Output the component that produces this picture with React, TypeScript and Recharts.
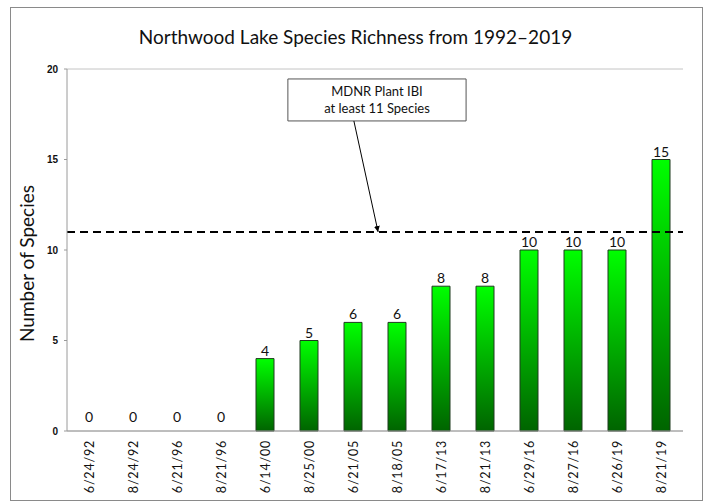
import React from "react";
import {
  ComposedChart,
  Bar,
  Line,
  XAxis,
  YAxis,
  CartesianGrid,
  ReferenceLine,
  ReferenceArea,
  LabelList,
} from "recharts";

const dates = [
  "6/24/92", "8/24/92", "6/21/96", "8/21/96", "6/14/00", "8/25/00", "6/21/05",
  "8/18/05", "6/17/13", "8/21/13", "6/29/16", "8/27/16", "6/26/19", "8/21/19",
];
const species = [0, 0, 0, 0, 4, 5, 6, 6, 8, 8, 10, 10, 10, 15];
const yTicks = [0, 5, 10, 15, 20];
const ibiThreshold = 11;
const title = "Northwood Lake Species Richness from 1992\u20132019";
const noteLines = ["MDNR Plant IBI", "at least 11 Species"];

const data = dates.map((d, i) => ({ date: d, value: species[i], slot: i + 0.5 }));

const FONT = "Lato, 'Open Sans', sans-serif";

const XTick = (props: any) => {
  const { x, y, payload } = props;
  return (
    <g transform={`translate(${x + 4.5}, ${y + 1}) rotate(-90)`}>
      <text
        x={0}
        y={0}
        textAnchor="end"
        fontFamily={FONT}
        fontSize={12.5}
        letterSpacing={0.8}
        fill="#111"
      >
        {payload.value}
      </text>
    </g>
  );
};

const ValueLabel = (props: any) => {
  const { x, y, value } = props;
  const dy = value === 0 ? 9 : 3;
  return (
    <text x={x} y={y - dy} textAnchor="middle" fontFamily={FONT} fontSize={14} fill="#111">
      {value}
    </text>
  );
};

const NoteLabel = (props: any) => {
  const { viewBox } = props;
  const cx = viewBox.x + viewBox.width / 2;
  const top = viewBox.y;
  return (
    <g>
      <text x={cx} y={top + 17} textAnchor="middle" fontFamily={FONT} fontSize={13} fill="#111">
        {noteLines[0]}
      </text>
      <text x={cx} y={top + 34} textAnchor="middle" fontFamily={FONT} fontSize={13} fill="#111">
        {noteLines[1]}
      </text>
    </g>
  );
};

export default function App() {
  return (
    <div style={{ position: "absolute", left: 0, top: 0, width: 711, height: 504, background: "#fff" }}>
      <div
        style={{
          position: "absolute",
          left: 0,
          top: 25,
          width: 711,
          textAlign: "center",
          fontFamily: FONT,
          fontSize: 19,
          color: "#111",
        }}
      >
        {title}
      </div>
      <div style={{ position: "absolute", left: 0, top: 0 }}>
        <ComposedChart
          width={711}
          height={504}
          data={data}
          margin={{ top: 69, right: 28, bottom: 10, left: 27 }}
        >
          <defs>
            <linearGradient id="barGrad" x1="0" y1="0" x2="0" y2="1">
              <stop offset="0%" stopColor="#00ff00" />
              <stop offset="100%" stopColor="#006400" />
            </linearGradient>
            <marker id="arrowHead" viewBox="0 0 10 10" refX="10" refY="5" markerWidth="6" markerHeight="6" orient="auto">
              <path d="M0,0 L10,5 L0,10 z" fill="#000" />
            </marker>
          </defs>
          <CartesianGrid vertical={false} stroke="#c4c4c4" />
          <XAxis
            dataKey="date"
            xAxisId="cat"
            height={63}
            interval={0}
            tick={<XTick />}
            tickLine={false}
            axisLine={{ stroke: "#9a9a9a" }}
          />
          <XAxis
            xAxisId="num"
            dataKey="slot"
            type="number"
            domain={[0, 14]}
            allowDataOverflow
            height={0}
            tick={false}
            tickLine={false}
            axisLine={false}
          />
          <YAxis
            yAxisId="l"
            width={40}
            domain={[0, 20]}
            ticks={yTicks}
            tickSize={3}
            tickMargin={6}
            tick={{ fontFamily: "'Liberation Sans', Arial, sans-serif", fontSize: 10, fontWeight: "bold", fill: "#111" }}
            axisLine={{ stroke: "#9a9a9a" }}
            tickLine={{ stroke: "#9a9a9a" }}
            label={{
              value: "Number of Species",
              angle: -90,
              position: "insideLeft",
              dx: -5,
              dy: 92,
              style: { fontFamily: FONT, fontSize: 19, fill: "#111" },
            }}
          />
          <YAxis
            yAxisId="r"
            orientation="right"
            width={0}
            domain={[0, 20]}
            tick={false}
            tickLine={false}
            axisLine={{ stroke: "#b0b0b0" }}
          />
          <Bar
            dataKey="value"
            xAxisId="cat"
            yAxisId="l"
            barSize={18}
            fill="url(#barGrad)"
            stroke="#1f3a1f"
            strokeWidth={1}
            isAnimationActive={false}
          />
          <Line
            dataKey="value"
            xAxisId="cat"
            yAxisId="l"
            stroke="none"
            dot={false}
            activeDot={false}
            isAnimationActive={false}
          >
            <LabelList dataKey="value" content={<ValueLabel />} />
          </Line>
          <ReferenceLine
            xAxisId="cat"
            yAxisId="l"
            y={ibiThreshold}
            stroke="#000"
            strokeWidth={2}
            strokeDasharray="8 5"
          />
          <ReferenceArea
            xAxisId="num"
            yAxisId="l"
            x1={5.02}
            x2={9.07}
            y1={17.13}
            y2={19.45}
            fill="#fff"
            fillOpacity={1}
            stroke="#555"
            strokeWidth={1}
            label={<NoteLabel />}
          />
          <ReferenceLine
            xAxisId="num"
            yAxisId="l"
            segment={[
              { x: 6.52, y: 17.13 },
              { x: 7.07, y: 11 },
            ]}
            stroke="#000"
            strokeWidth={1}
            markerEnd="url(#arrowHead)"
          />
        </ComposedChart>
      </div>
      <div
        style={{
          position: "absolute",
          left: 10,
          top: 7,
          width: 693,
          height: 494,
          border: "1px solid #8a8a8a",
          boxSizing: "border-box",
          pointerEvents: "none",
        }}
      />
    </div>
  );
}
